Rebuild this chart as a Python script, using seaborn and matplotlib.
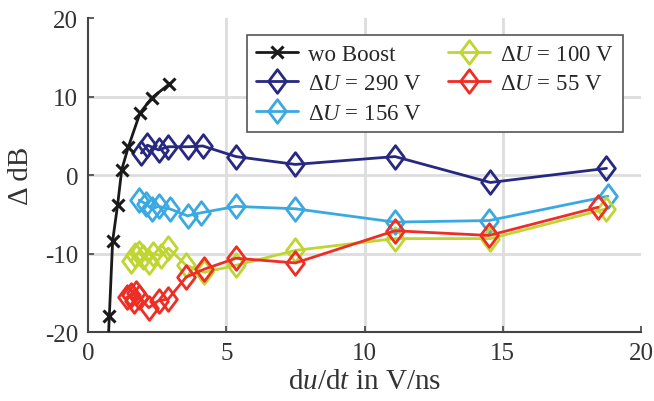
import numpy as np
import pandas as pd
import matplotlib
matplotlib.use("Agg")
import matplotlib.pyplot as plt
from matplotlib.path import Path
import seaborn as sns

# Slew rate du/dt (V/ns) and change in level (dB) per configuration
wo_x = [0.72, 0.77, 0.89, 1.07, 1.22, 1.46, 1.88, 2.30, 2.94]
wo_y = [-22.0, -18.0, -8.4, -3.8, 0.7, 3.6, 7.9, 9.8, 11.6]

u290_x = [1.93, 2.15, 2.55, 2.90, 3.62, 4.15, 5.35, 7.50, 11.10, 14.55, 18.75]
u290_y = [2.8, 3.8, 3.2, 3.6, 3.6, 3.7, 2.35, 1.35, 2.35, -0.95, 0.85]

u156_x = [1.85, 2.10, 2.30, 2.55, 2.95, 3.60, 4.10, 5.35, 7.50, 11.10, 14.50, 18.80]
u156_y = [-3.2, -3.7, -4.3, -4.0, -4.3, -5.2, -4.8, -4.0, -4.3, -6.0, -5.8, -2.7]

u100_x = [1.55, 1.70, 1.85, 2.00, 2.20, 2.35, 2.65, 2.90, 3.55, 4.20, 5.35, 7.50, 11.10, 14.55, 18.75]
u100_y = [-11.0, -10.2, -9.9, -10.5, -11.1, -10.0, -10.3, -9.3, -11.5, -12.4, -11.5, -9.6, -8.1, -8.1, -4.3]

u55_x = [1.40, 1.55, 1.65, 1.75, 1.85, 2.20, 2.55, 2.90, 3.55, 4.20, 5.35, 7.50, 11.10, 14.50, 18.45]
u55_y = [-15.6, -15.3, -16.0, -15.0, -15.6, -16.9, -16.0, -15.8, -13.0, -12.0, -10.6, -11.2, -7.1, -7.7, -4.1]

labels = ["wo Boost", "Δ$U$ = 290 V", "Δ$U$ = 156 V", "Δ$U$ = 100 V", "Δ$U$ = 55 V"]
colors = ["#1a1a1a", "#27287f", "#3ba9e1", "#bfd630", "#ee2d24"]

x_ticks = [0, 5, 10, 15, 20]
y_ticks = [-20, -10, 0, 10, 20]

sns.set_theme(style="white")
plt.rcParams["font.family"] = ["Liberation Serif", "DejaVu Serif"]
plt.rcParams["mathtext.fontset"] = "custom"
plt.rcParams["mathtext.rm"] = "Liberation Serif"
plt.rcParams["mathtext.it"] = "Liberation Serif:italic"
plt.rcParams["axes.unicode_minus"] = False

# tall open diamond, a bit narrower than it is high
tall_diamond = Path([(0, 1), (0.75, 0), (0, -1), (-0.75, 0), (0, 1)],
                    [Path.MOVETO, Path.LINETO, Path.LINETO, Path.LINETO, Path.CLOSEPOLY])

fig = plt.figure(figsize=(6.54, 4.02), dpi=100)
ax = fig.add_axes([0.1346, 0.1716, 0.8456, 0.7811])

series = [(wo_x, wo_y), (u290_x, u290_y), (u156_x, u156_y), (u100_x, u100_y), (u55_x, u55_y)]
for i, ((xs, ys), lab, col) in enumerate(zip(series, labels, colors)):
    df = pd.DataFrame({"x": xs, "y": ys})
    if i == 0:
        sns.lineplot(data=df, x="x", y="y", ax=ax, color=col, label=lab, sort=False,
                     estimator=None, linewidth=2.0, marker="x", markersize=9,
                     markeredgewidth=2.2, markeredgecolor=col, zorder=5)
    else:
        sns.lineplot(data=df, x="x", y="y", ax=ax, color=col, label=lab, sort=False,
                     estimator=None, linewidth=2.0, marker=tall_diamond, markersize=17,
                     markerfacecolor="none", markeredgewidth=2.0, markeredgecolor=col,
                     zorder=4 + i * 0.1)

ax.set_xlim(0, 20)
ax.set_ylim(-20, 20)
ax.set_xticks(x_ticks)
ax.set_yticks(y_ticks)
ax.set_xlabel("d$u$/d$t$ in V/ns", fontsize=21, color="#333333", labelpad=3)
ax.set_ylabel("Δ dB", fontsize=21, color="#333333", labelpad=8)

ax.grid(True, color="#dddddd", linewidth=2.0)
ax.set_axisbelow(True)
for t, loc in zip(ax.xaxis.get_major_ticks(), x_ticks):
    if loc in (0, 20):
        t.gridline.set_visible(False)
for t, loc in zip(ax.yaxis.get_major_ticks(), y_ticks):
    if loc in (-20, 20):
        t.gridline.set_visible(False)

for side in ("top", "right"):
    ax.spines[side].set_visible(False)
for side in ("left", "bottom"):
    ax.spines[side].set_color("#444444")
    ax.spines[side].set_linewidth(1.5)

ax.tick_params(axis="both", direction="in", length=4, width=1.2, color="#444444",
               labelsize=18, labelcolor="#333333", pad=7,
               left=True, bottom=True)

leg = ax.legend(loc="upper right", bbox_to_anchor=(0.967, 0.946), ncol=2,
                fontsize=16.5, frameon=True, fancybox=False, framealpha=1,
                edgecolor="#555555", handlelength=1.85, handletextpad=0.45,
                columnspacing=1.1, labelspacing=0.37, borderpad=0.38,
                borderaxespad=0)
leg.get_frame().set_linewidth(1.2)

fig.savefig("out.png", dpi=100)
